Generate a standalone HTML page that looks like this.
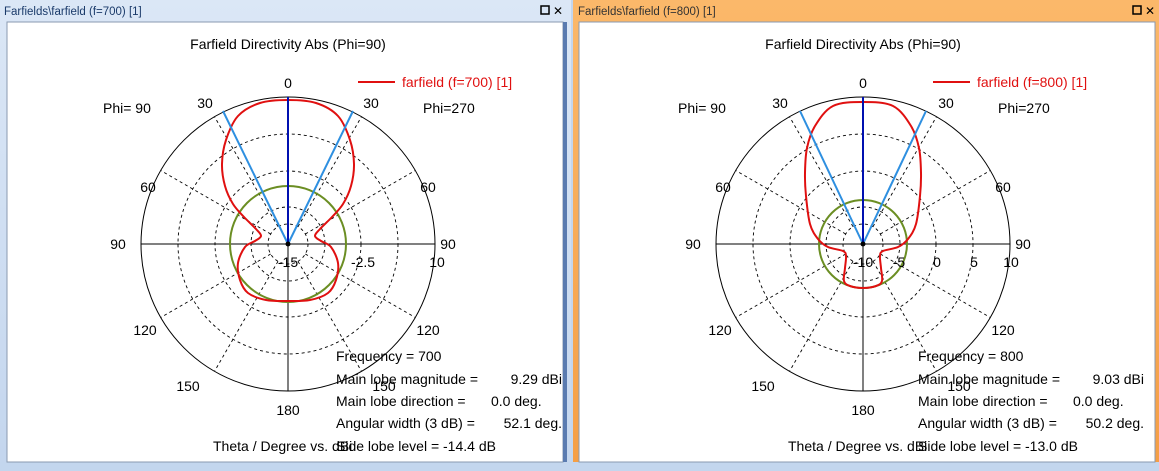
<!DOCTYPE html>
<html><head><meta charset="utf-8"><style>
body{margin:0;width:1159px;height:471px;overflow:hidden;background:#c3d6ee;font-family:"Liberation Sans",Tahoma,sans-serif}
svg{display:block}
text{font-family:"Liberation Sans",Tahoma,sans-serif;font-size:14px;fill:#000}
</style></head><body>
<svg id="s" width="1159" height="471" xmlns="http://www.w3.org/2000/svg">
<defs><linearGradient id="og" x1="0" y1="0" x2="0" y2="1"><stop offset="0" stop-color="#fbb86a"/><stop offset="1" stop-color="#f59f45"/></linearGradient>
<linearGradient id="bg" x1="0" y1="0" x2="0" y2="1"><stop offset="0" stop-color="#dbe7f6"/><stop offset="1" stop-color="#c4d6ee"/></linearGradient></defs>
<rect x="0" y="0" width="1159" height="471" fill="#c3d6ee"/>
<rect x="0" y="0" width="571" height="462" fill="url(#bg)"/>
<rect x="573" y="0" width="586" height="462" fill="url(#og)"/>
<rect x="7" y="22" width="556" height="440" fill="#fff" stroke="#8a9ab0"/>
<rect x="579" y="22" width="576" height="440" fill="#fff" stroke="#8a9ab0"/>
<rect x="563" y="22" width="4" height="440" fill="#5a7bb0"/>
<text x="4" y="15" style="font-size:11.5px;fill:#1a3a6a">Farfields\farfield (f=700) [1]</text>
<text x="578" y="15" style="font-size:11.5px;fill:#333">Farfields\farfield (f=800) [1]</text>
<rect x="541" y="6" width="8" height="8" fill="none" stroke="#000" stroke-width="1.5"/><text x="553" y="15" style="font-size:12px">✕</text>
<rect x="1133" y="6" width="8" height="8" fill="none" stroke="#000" stroke-width="1.5"/><text x="1145" y="15" style="font-size:12px">✕</text>
<g id="g"></g>
</svg>
<script>
var g=document.getElementById('g'),h='';
function smooth(P){var d='M'+P[0][0]+','+P[0][1],n=P.length;
 for(var i=0;i<n;i++){var p0=P[(i-1+n)%n],p1=P[i],p2=P[(i+1)%n],p3=P[(i+2)%n];
  d+=' C'+(p1[0]+(p2[0]-p0[0])/6)+','+(p1[1]+(p2[1]-p0[1])/6)+' '+(p2[0]-(p3[0]-p1[0])/6)+','+(p2[1]-(p3[1]-p1[1])/6)+' '+p2[0]+','+p2[1];}
 return d+'Z';}
function plot(cx,cy,gr,red,blue,ringLbl,info,leg,io){
 h+='<text x="'+cx+'" y="49" text-anchor="middle">Farfield Directivity Abs (Phi=90)</text>';
 [20,37,73,110].forEach(function(r){h+='<circle cx="'+cx+'" cy="'+cy+'" r="'+r+'" fill="none" stroke="#000" stroke-width="0.9" stroke-dasharray="3,3"/>';});
 h+='<circle cx="'+cx+'" cy="'+cy+'" r="147" fill="none" stroke="#000" stroke-width="1"/>';
 [30,60,120,150,210,240,300,330].forEach(function(a){var r=a*Math.PI/180;
  h+='<line x1="'+(cx+20*Math.sin(r))+'" y1="'+(cy-20*Math.cos(r))+'" x2="'+(cx+147*Math.sin(r))+'" y2="'+(cy-147*Math.cos(r))+'" stroke="#000" stroke-width="0.9" stroke-dasharray="3,3"/>';});
 h+='<line x1="'+(cx-147)+'" y1="'+cy+'" x2="'+(cx+147)+'" y2="'+cy+'" stroke="#000"/>';
 h+='<line x1="'+cx+'" y1="'+cy+'" x2="'+cx+'" y2="'+(cy+147)+'" stroke="#000"/>';
 h+='<circle cx="'+cx+'" cy="'+cy+'" r="'+gr+'" fill="none" stroke="#6b8e23" stroke-width="2"/>';
 var pts=[];red.forEach(function(p){pts.push([cx+p[0],cy+p[1]]);});
 for(var i=red.length-2;i>0;i--)pts.push([cx-red[i][0],cy+red[i][1]]);
 h+='<path d="'+smooth(pts)+'" fill="none" stroke="#e01010" stroke-width="2"/>';
 h+='<line x1="'+cx+'" y1="'+cy+'" x2="'+(cx+blue[0])+'" y2="'+(cy+blue[1])+'" stroke="#2e8fe0" stroke-width="2"/>';
 h+='<line x1="'+cx+'" y1="'+cy+'" x2="'+(cx-blue[0])+'" y2="'+(cy+blue[1])+'" stroke="#2e8fe0" stroke-width="2"/>';
 h+='<line x1="'+cx+'" y1="'+cy+'" x2="'+cx+'" y2="'+(cy-147)+'" stroke="#0010b0" stroke-width="2"/>';
 h+='<circle cx="'+cx+'" cy="'+cy+'" r="2.5" fill="#000"/>';
 var L=[["0",0,-156],["30",-83,-136],["30",83,-136],["60",-140,-52],["60",140,-52],["90",-170,5],["90",160,5],["120",-143,91],["120",140,91],["150",-100,147],["150",96,147],["180",0,171]];
 L.forEach(function(l){h+='<text x="'+(cx+l[1])+'" y="'+(cy+l[2])+'" text-anchor="middle">'+l[0]+'</text>';});
 ringLbl.forEach(function(l){h+='<text x="'+(cx+l[1])+'" y="'+(cy+23)+'" text-anchor="middle">'+l[0]+'</text>';});
 h+='<text x="'+(cx-185)+'" y="'+(cy-131)+'">Phi= 90</text><text x="'+(cx+135)+'" y="'+(cy-131)+'">Phi=270</text>';
 h+='<line x1="'+(cx+70)+'" y1="82" x2="'+(cx+107)+'" y2="82" stroke="#e01010" stroke-width="2"/><text x="'+(cx+114)+'" y="87" style="fill:#e01010">'+leg+'</text>';
 h+='<text x="'+(cx-75)+'" y="451">Theta / Degree vs. dBi</text>';
 var x=cx+io;
 h+='<text x="'+x+'" y="361">Frequency = '+info[0]+'</text>';
 h+='<text x="'+x+'" y="384">Main lobe magnitude =</text><text x="'+(x+226)+'" y="384" text-anchor="end">'+info[1]+' dBi</text>';
 h+='<text x="'+x+'" y="406">Main lobe direction =</text><text x="'+(x+155)+'" y="406">0.0 deg.</text>';
 h+='<text x="'+x+'" y="428">Angular width (3 dB) =</text><text x="'+(x+226)+'" y="428" text-anchor="end">'+info[2]+' deg.</text>';
 h+='<text x="'+x+'" y="451">Side lobe level =  '+info[3]+' dB</text>';
}
plot(288,244,58,[[0,-144],[28,-141],[50,-128],[62,-104],[66,-80],[63,-58],[55,-40],[44,-27],[32,-15],[27,-8],[33,-3],[43,3],[50,19],[48,36],[40,49],[22,56],[0,57]],[65,-133],[["-15",0],["-2.5",75],["10",149]],["700","9.29","52.1","-14.4"],"farfield (f=700) [1]",48);
plot(863,244,44,[[0,-142],[30,-138],[48,-118],[56,-96],[58,-71],[57,-48],[53,-20],[45,-5],[35,3],[20,7],[17,12],[18,24],[19,37],[13,42],[0,44]],[63,-133],[["-10",0],["-5",36],["0",74],["5",111],["10",148]],["800","9.03","50.2","-13.0"],"farfield (f=800) [1]",55);
g.innerHTML=h;
</script>
</body></html>
